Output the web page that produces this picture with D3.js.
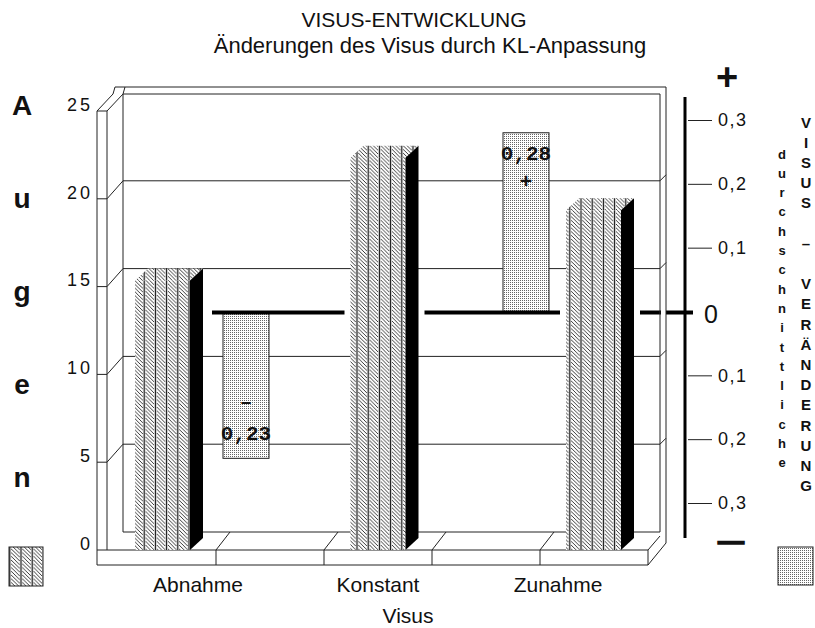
<!DOCTYPE html>
<html>
<head>
<meta charset="utf-8">
<script src="https://cdn.jsdelivr.net/npm/d3@7"></script>
<style>
  body { margin: 0; background: #fff; }
  text { font-family: "Liberation Sans", Arial, sans-serif; fill: #111; }
</style>
</head>
<body>
<div id="chart"></div>
<script>
// data
var categories = ["Abnahme", "Konstant", "Zunahme"];
var eyes = [15, 22, 19];                 // Augen (hatched bars)
var changeCats = ["Abnahme", "Zunahme"];
var changeVals = [-0.23, 0.28];          // durchschnittliche Visus-Veraenderung (dotted bars)
var leftTicks = [0, 5, 10, 15, 20, 25];
var rightTicks = [-0.3, -0.2, -0.1, 0.1, 0.2, 0.3];
var sideWord = ["A", "u", "g", "e", "n"];
var rightWordSmall = "durchschnittliche".split("");
var rightWordBig = ["V", "I", "S", "U", "S", "", "–", "", "V", "E", "R", "Ä", "N", "D", "E", "R", "U", "N", "G"];

var W = 815, H = 628;
var svg = d3.select("#chart").append("svg")
    .attr("width", W).attr("height", H);
svg.append("rect").attr("width", W).attr("height", H).attr("fill", "#fff");

// patterns
var defs = svg.append("defs");
var hatch = defs.append("pattern").attr("id", "hatch")
    .attr("patternUnits", "userSpaceOnUse").attr("width", 11.2).attr("height", 11.2);
hatch.append("rect").attr("width", 11.2).attr("height", 11.2).attr("fill", "#fff");
d3.range(-3, 4).forEach(function (k) {
    var o = k * 3.733;
    hatch.append("line").attr("x1", o).attr("y1", 0).attr("x2", o + 11.2).attr("y2", 11.2)
        .attr("stroke", "#222").attr("stroke-width", 0.9);
});
hatch.append("rect").attr("x", 8.4).attr("width", 2.8).attr("height", 11.2).attr("fill", "#fff");
hatch.append("line").attr("x1", 9.8).attr("x2", 9.8).attr("y1", 0).attr("y2", 11.2)
    .attr("stroke", "#111").attr("stroke-width", 1.3);

var dots = defs.append("pattern").attr("id", "dots")
    .attr("patternUnits", "userSpaceOnUse").attr("width", 2).attr("height", 2);
dots.append("rect").attr("width", 2).attr("height", 2).attr("fill", "#fff");
dots.append("rect").attr("width", 1).attr("height", 1).attr("fill", "#666");

// scales
var yBack = d3.scaleLinear().domain([0, 25]).range([532, 93]);
var yFront = d3.scaleLinear().domain([0, 25]).range([550, 111]);
var yChg = d3.scaleLinear().domain([-0.3, 0.3]).range([503, 120]);
var xLabel = d3.scaleBand().domain(categories).range([108, 648]);
var xBar = d3.scalePoint().domain(categories).range([169, 600]);
var xChg = d3.scalePoint().domain(changeCats).range([246, 526]);
var xFloor = d3.scaleLinear().domain([0, 5]).range([108, 648]);

var comma = function (v) { return d3.format(".1f")(Math.abs(v)).replace(".", ","); };
var comma2 = function (v) { return d3.format(".2f")(Math.abs(v)).replace(".", ","); };

var frame = svg.append("g").attr("fill", "none").attr("stroke", "#222").attr("stroke-width", 1);
function seg(x1, y1, x2, y2) {
    frame.append("line").attr("x1", x1).attr("y1", y1).attr("x2", x2).attr("y2", y2);
}

// back wall, side wall, floor
seg(97, yFront(25), 97, 565);
seg(107, yFront(25), 107, 550);
seg(97, yFront(25), 107, yFront(25));
seg(97, yFront(25), 113, 94);
seg(107, yFront(25), 123, 94);
seg(113, 94, 115, 87);
seg(123, 94, 125, 87);
seg(115, 87, 666, 87);
seg(123, 94, 660, 94);
seg(123, 94, 123, 532);
seg(123, 532, 660, 532);
seg(107, 550, 648, 550);
seg(97, 565, 648, 565);
seg(648, 550, 648, 565);
seg(648, 550, 660, 536);
seg(648, 565, 666, 543);

// grid lines on the wall
leftTicks.filter(function (v) { return v > 0 && v < 25; }).forEach(function (v) {
    seg(123, yBack(v), 660, yBack(v));
    seg(107, yFront(v), 123, yBack(v));
    seg(97, yFront(v), 107, yFront(v));
    seg(660, yBack(v), 666, yBack(v) - 6);
});
seg(97, yFront(0), 107, yFront(0));

// floor divisions
d3.range(1, 5).forEach(function (i) {
    var x = xFloor(i);
    seg(x, 550, x, 565);
    seg(x, 550, x + 14, 532);
});

// left axis labels
var leftAxis = svg.append("g")
    .attr("transform", "translate(96,1)")
    .call(d3.axisLeft(yFront).tickValues(leftTicks).tickSize(0).tickPadding(3).tickFormat(d3.format("d")));
leftAxis.select(".domain").remove();
leftAxis.selectAll("text")
    .attr("dy", "-0.1em")
    .style("font-family", "Liberation Sans, Arial, sans-serif")
    .style("font-size", "18px")
    .style("letter-spacing", "3px")
    .attr("fill", "#111");

// dotted bars (Visus change)
var chg = svg.append("g");
chg.selectAll("rect").data(changeVals).enter().append("rect")
    .attr("x", function (d, i) { return xChg(changeCats[i]) - 23; })
    .attr("width", 46)
    .attr("y", function (d) { return Math.min(yChg(d), yChg(0)); })
    .attr("height", function (d) { return Math.abs(yChg(d) - yChg(0)); })
    .attr("fill", "url(#dots)")
    .attr("stroke", "#222").attr("stroke-width", 1);

// zero line
svg.append("line")
    .attr("x1", xChg(changeCats[0]) - 34).attr("x2", 693)
    .attr("y1", yChg(0) + 1).attr("y2", yChg(0) + 1)
    .attr("stroke", "#000").attr("stroke-width", 4);

// right wall edge breaks the zero line
svg.append("rect").attr("x", 661).attr("y", yChg(0) - 3).attr("width", 5).attr("height", 8).attr("fill", "#fff");
svg.append("line").attr("x1", 660).attr("x2", 660).attr("y1", 94).attr("y2", 532).attr("stroke", "#222");
svg.append("line").attr("x1", 666).attr("x2", 666).attr("y1", 87).attr("y2", 543).attr("stroke", "#222");

// hatched bars (Augen)
var fw = 55, dx = 13, dy = -12;
var bars = svg.append("g");
categories.forEach(function (c, i) {
    var x0 = xBar(c) - 34;
    var yt = yBack(eyes[i]) + 12, yb = yFront(0);
    var g = bars.append("g");
    g.append("rect").attr("x", x0 - 6).attr("y", yChg(0) - 3)
        .attr("width", fw + dx + 12).attr("height", 8).attr("fill", "#fff");
    g.append("rect").attr("x", x0).attr("y", yt).attr("width", fw).attr("height", yb - yt)
        .attr("fill", "url(#hatch)");
    g.append("polygon")
        .attr("points", [[x0, yt], [x0 + dx, yt + dy], [x0 + fw + dx, yt + dy], [x0 + fw, yt]].join(" "))
        .attr("fill", "url(#hatch)");
    g.append("polygon")
        .attr("points", [[x0 + fw, yt], [x0 + fw + dx, yt + dy], [x0 + fw + dx, yb + dy], [x0 + fw, yb]].join(" "))
        .attr("fill", "#000");
});

// labels in the dotted bars
changeVals.forEach(function (v, i) {
    var cx = xChg(changeCats[i]);
    var num = svg.append("text").attr("x", cx).attr("text-anchor", "middle")
        .style("font-family", "Liberation Mono, monospace").style("font-weight", "bold")
        .style("font-size", "21px").text(comma2(v));
    var sign = svg.append("text").attr("x", cx).attr("text-anchor", "middle")
        .style("font-family", "Liberation Mono, monospace").style("font-weight", "bold")
        .style("font-size", "21px").text(v < 0 ? "–" : "+");
    if (v > 0) {
        num.attr("y", yChg(v) + 27);
        sign.attr("y", yChg(v) + 55);
    } else {
        num.attr("y", yChg(v) - 18);
        sign.attr("y", yChg(v) - 50);
    }
});

// right axis
svg.append("line").attr("x1", 685).attr("x2", 685).attr("y1", 97).attr("y2", 538)
    .attr("stroke", "#000").attr("stroke-width", 3);
var rightAxis = svg.append("g")
    .attr("transform", "translate(688,0)")
    .call(d3.axisRight(yChg).tickValues(rightTicks).tickSize(24).tickPadding(6).tickFormat(comma));
rightAxis.select(".domain").remove();
rightAxis.selectAll("line").attr("stroke", "#222");
rightAxis.selectAll("text")
    .style("font-family", "Liberation Sans, Arial, sans-serif")
    .style("font-size", "18px")
    .style("letter-spacing", "1.5px")
    .attr("fill", "#111");
svg.append("text").attr("x", 704).attr("y", yChg(0) + 2).attr("dominant-baseline", "central")
    .style("font-size", "25px").text("0");
svg.append("text").attr("x", 727).attr("y", 77).attr("text-anchor", "middle").attr("dominant-baseline", "central")
    .style("font-size", "38px").style("font-weight", "bold").text("+");
svg.append("text").attr("x", 731).attr("y", 541).attr("text-anchor", "middle").attr("dominant-baseline", "central")
    .style("font-size", "26px").style("font-weight", "bold")
    .attr("stroke", "#111").attr("stroke-width", 1.5).text("—");

// titles
svg.append("text").attr("x", 414).attr("y", 27).attr("text-anchor", "middle")
    .style("font-size", "21px").text("VISUS-ENTWICKLUNG");
svg.append("text").attr("x", 430).attr("y", 53).attr("text-anchor", "middle")
    .style("font-size", "22px").text("Änderungen des Visus durch KL-Anpassung");

// category labels and axis title
svg.append("g").selectAll("text").data(categories).enter().append("text")
    .attr("x", function (d) { return xLabel(d) + xLabel.bandwidth() / 2; })
    .attr("y", 592).attr("text-anchor", "middle")
    .style("font-size", "21px").text(function (d) { return d; });
svg.append("text").attr("x", 408).attr("y", 623).attr("text-anchor", "middle")
    .style("font-size", "21px").text("Visus");

// vertical word "Augen"
svg.append("g").selectAll("text").data(sideWord).enter().append("text")
    .attr("x", 22).attr("y", function (d, i) { return 105 + i * 93.2; })
    .attr("text-anchor", "middle").attr("dominant-baseline", "central")
    .style("font-size", "28px").style("font-weight", "bold").text(function (d) { return d; });

// right vertical texts
svg.append("g").selectAll("text").data(rightWordSmall).enter().append("text")
    .attr("x", 782).attr("y", function (d, i) { return 154 + i * 19.3; })
    .attr("text-anchor", "middle").attr("dominant-baseline", "central")
    .style("font-family", "Liberation Sans Narrow, Liberation Sans, sans-serif")
    .style("font-size", "13px").style("font-weight", "bold").text(function (d) { return d; });
svg.append("g").selectAll("text").data(rightWordBig).enter().append("text")
    .attr("x", 806).attr("y", function (d, i) { return 122 + i * 20.2; })
    .attr("text-anchor", "middle").attr("dominant-baseline", "central")
    .style("font-size", "15px").style("font-weight", "bold").text(function (d) { return d; });

// legend swatches
svg.append("rect").attr("x", 9).attr("y", 547).attr("width", 34).attr("height", 39)
    .attr("fill", "url(#hatch)").attr("stroke", "#222");
svg.append("rect").attr("x", 778).attr("y", 547).attr("width", 35).attr("height", 38)
    .attr("fill", "url(#dots)").attr("stroke", "#222");
</script>
</body>
</html>
